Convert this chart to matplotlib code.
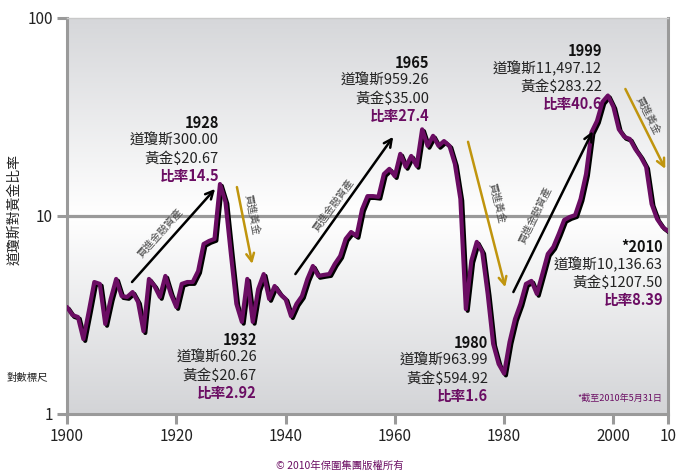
import numpy as np
import matplotlib
matplotlib.use('Agg')
import matplotlib.pyplot as plt
import matplotlib.patheffects as pe
from matplotlib.colors import LinearSegmentedColormap

plt.rcParams['font.family'] = ['Noto Sans CJK TC', 'DejaVu Sans']

# Dow / gold ratio, yearly values
years = list(range(1900, 2011))
ratio = [
    3.47, 3.16, 3.09, 2.39, 3.31, 4.64, 4.54, 2.85, 3.81, 4.81,   # 1900s
    3.94, 3.90, 4.13, 3.68, 2.62, 4.81, 4.43, 3.90, 4.98, 4.04,   # 1910s
    3.47, 4.54, 4.64, 4.64, 5.27, 7.22, 7.48, 7.66, 14.5, 11.8,   # 1920s
    6.43, 3.60, 2.92, 4.81, 2.92, 4.28, 5.09, 3.81, 4.43, 4.04,   # 1930s
    3.81, 3.12, 3.60, 3.94, 4.81, 5.59, 4.98, 5.04, 5.09, 5.72,   # 1940s
    6.28, 7.66, 8.30, 7.93, 10.8, 12.6, 12.6, 12.5, 16.3, 17.3,   # 1950s
    15.9, 20.6, 17.7, 20.1, 17.9, 27.4, 22.6, 25.4, 22.6, 23.9,   # 1960s
    22.6, 18.3, 12.2, 3.39, 5.93, 7.40, 6.58, 4.04, 2.26, 1.79,   # 1970s
    1.60, 2.31, 3.02, 3.60, 4.54, 4.70, 4.04, 5.09, 6.43, 6.97,   # 1980s
    8.11, 9.55, 9.88, 10.1, 12.2, 16.3, 26.5, 30.2, 37.7, 40.6,   # 1990s
    35.6, 27.4, 25.1, 24.5, 21.8, 19.9, 17.7, 11.5, 9.66, 8.80,   # 2000s
    8.39,
]

xticks = [1900, 1920, 1940, 1960, 1980, 2000, 2010]
xtick_labels = ['1900', '1920', '1940', '1960', '1980', '2000', '10']
yticks = [1, 10, 100]
ytick_labels = ['1', '10', '100']

# callout blocks: year, dow, gold, ratio
callouts = [
    ('1928', '道瓊斯300.00', '黃金$20.67', '比率14.5'),
    ('1932', '道瓊斯60.26', '黃金$20.67', '比率2.92'),
    ('1965', '道瓊斯959.26', '黃金$35.00', '比率27.4'),
    ('1980', '道瓊斯963.99', '黃金$594.92', '比率1.6'),
    ('1999', '道瓊斯11,497.12', '黃金$283.22', '比率40.6'),
    ('*2010', '道瓊斯10,136.63', '黃金$1207.50', '比率8.39'),
]
# pixel position (right edge, first line centre) of each callout
callout_pos = [(219, 123), (257, 340), (429, 63), (488, 343), (602, 51), (663, 247)]

# trend arrows (tail, head) in data coords + label
arrows = [
    ((1911.9, 4.64), (1927.1, 13.7), 'fin'),
    ((1931.1, 14.0), (1933.9, 5.73), 'gold'),
    ((1941.8, 5.09), (1959.7, 25.1), 'fin'),
    ((1973.4, 23.7), (1980.2, 4.37), 'gold'),
    ((1981.7, 4.13), (1996.2, 26.8), 'fin'),
    ((2002.2, 43.8), (2009.5, 17.3), 'gold'),
]
arrow_text_pos = [(160, 233), (252, 215), (333, 205), (497, 203), (535, 215), (648, 115)]
arrow_text_rot = [48, -79, 54, -76, 64, -63]

PURPLE = '#6b0d63'
GOLD = '#c0950e'
AXGRAY = '#9a9a9a'
W, H = 681, 474


def px(x, y):
    return x / W, 1 - y / H


fig = plt.figure(figsize=(6.81, 4.74), dpi=100)
ax = fig.add_axes([67 / W, 1 - 414 / H, (668 - 67) / W, (414 - 18) / H])

# background gradient: gray top, white around the 10 line, gray bottom
cmap = LinearSegmentedColormap.from_list(
    'bg', [(0.0, '#d6d7da'), (0.5, '#ffffff'), (1.0, '#d3d4d7')])
grad = np.linspace(0, 1, 256).reshape(-1, 1)
ax.imshow(grad, extent=[0, 1, 0, 1], transform=ax.transAxes, aspect='auto',
          cmap=cmap, zorder=0, origin='upper')

ax.set_yscale('log')
ax.set_xlim(1900, 2010)
ax.set_ylim(1, 100)

ax.axhline(10, color=AXGRAY, lw=2.3, zorder=1)

ax.plot(years, ratio, color=PURPLE, lw=3.0, zorder=3,
        solid_joinstyle='round', solid_capstyle='round',
        path_effects=[pe.SimpleLineShadow(offset=(1.3, -1.3), shadow_color='black', alpha=1.0),
                      pe.Normal()])

ax.set_xticks(xticks)
ax.set_xticklabels(xtick_labels)
ax.set_yticks(yticks)
ax.set_yticklabels(ytick_labels)
ax.yaxis.set_minor_locator(matplotlib.ticker.NullLocator())
ax.tick_params(axis='both', direction='out', length=7, width=2.2, color=AXGRAY,
               labelsize=11, labelcolor='#222222', pad=3)

for side in ['left', 'bottom', 'right']:
    ax.spines[side].set_color(AXGRAY)
    ax.spines[side].set_linewidth(2.2)
ax.spines['top'].set_color('#c9c9c9')
ax.spines['top'].set_linewidth(1)

# arrows
for (tail, head, kind), tpos, rot in zip(arrows, arrow_text_pos, arrow_text_rot):
    col = 'black' if kind == 'fin' else GOLD
    ax.annotate('', xy=head, xytext=tail,
                arrowprops=dict(arrowstyle='->', color=col, lw=1.8,
                                mutation_scale=14, shrinkA=0, shrinkB=0),
                zorder=4)
    label = '買進金融資產' if kind == 'fin' else '買進黃金'
    fig.text(*px(*tpos), label, rotation=rot, rotation_mode='anchor',
             ha='center', va='center', fontsize=7.5, color='#4a4a4a')

# callout text blocks
for (yr, dow, gold, rt), (x, y) in zip(callouts, callout_pos):
    fig.text(*px(x, y), yr, ha='right', va='center', fontsize=10.5,
             fontweight='bold', color='#111111')
    fig.text(*px(x, y + 17.7), dow, ha='right', va='center', fontsize=10.5, color='#222222')
    fig.text(*px(x, y + 35.4), gold, ha='right', va='center', fontsize=10.5, color='#222222')
    fig.text(*px(x, y + 53.1), rt, ha='right', va='center', fontsize=10.5,
             fontweight='bold', color=PURPLE)

fig.text(*px(14, 210), '道瓊斯對黃金比率', rotation=90, ha='center', va='center',
         fontsize=10, color='#222222')
fig.text(*px(27, 378), '對數標尺', ha='center', va='center', fontsize=7.5, color='#222222')
fig.text(*px(662, 398), '*截至2010年5月31日', ha='right', va='center', fontsize=6.5,
         color=PURPLE)
fig.text(*px(340, 466), '© 2010年保圍集團版權所有', ha='center', va='center',
         fontsize=7.5, color=PURPLE)

fig.savefig('out.png', dpi=100)
